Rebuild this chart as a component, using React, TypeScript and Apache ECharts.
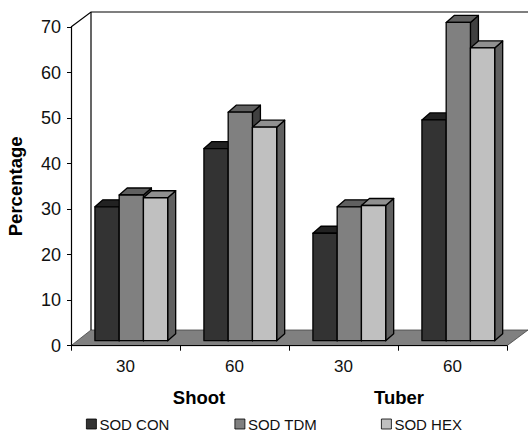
import React, { useEffect, useRef } from "react";
import * as echarts from "echarts";

const categories = ["30", "60", "30", "60"];
const seriesNames = ["SOD CON", "SOD TDM", "SOD HEX"];
const sodCon = [29.4, 42.2, 23.6, 48.5];
const sodTdm = [32.0, 50.2, 29.4, 69.9];
const sodHex = [31.4, 46.9, 29.7, 64.3];
const groupLabels = ["Shoot", "Tuber"];
const frontColors = ["#333333", "#808080", "#c0c0c0"];
const topColors = ["#222222", "#606060", "#909090"];
const sideColors = ["#222222", "#404040", "#606060"];

const FONT = "'Liberation Sans', Arial, sans-serif";
const G = { left: 71, right: 507, top: 27, bottom: 345.7 };
const DX = 20;
const DY = 15.7;

function barSeries(idx: number, values: number[]) {
  return {
    type: "custom",
    name: seriesNames[idx],
    coordinateSystem: "cartesian2d",
    encode: { x: 0, y: 1 },
    itemStyle: { color: frontColors[idx], borderColor: "#000", borderWidth: 1 },
    data: values.map((v, i) => [i, v]),
    renderItem: (_p: any, api: any) => {
      const band = api.size([1, 0])[0];
      const w = band * 0.2225;
      const c = api.coord([api.value(0), api.value(1)]);
      const b = api.coord([api.value(0), 0]);
      const x0 = c[0] + 5.8 + (idx - 1.5) * w;
      const x1 = x0 + w;
      const yTop = c[1] - 5;
      const yBase = b[1] - 5;
      const dx = 8;
      const dy = 7;
      const line = { stroke: "#000", lineWidth: 1.3, lineJoin: "round" };
      return {
        type: "group",
        children: [
          {
            type: "polygon",
            shape: { points: [[x1, yTop], [x1 + dx, yTop - dy], [x1 + dx, yBase - dy], [x1, yBase]] },
            style: { fill: sideColors[idx], ...line },
          },
          {
            type: "polygon",
            shape: { points: [[x0, yTop], [x0 + dx, yTop - dy], [x1 + dx, yTop - dy], [x1, yTop]] },
            style: { fill: topColors[idx], ...line },
          },
          {
            type: "rect",
            shape: { x: x0, y: yTop, width: w, height: yBase - yTop },
            style: { fill: frontColors[idx], ...line },
          },
        ],
      };
    },
  };
}

const legendLefts = [86, 234.5, 381];

export default function App() {
  const ref = useRef<HTMLDivElement>(null);
  useEffect(() => {
    const chart = echarts.init(ref.current!, null, { renderer: "svg" });
    const wall = { stroke: "#000", lineWidth: 1.2 };
    chart.setOption({
      animation: false,
      backgroundColor: "#fff",
      grid: {
        left: G.left,
        top: G.top,
        width: G.right - G.left,
        height: G.bottom - G.top,
        containLabel: false,
        outerBoundsMode: "none",
      },
      xAxis: {
        type: "category",
        data: categories,
        boundaryGap: true,
        axisLine: { show: true, lineStyle: { color: "#000", width: 1.2 } },
        axisTick: { show: true, length: 5, lineStyle: { color: "#000", width: 1 } },
        axisLabel: { color: "#111", fontSize: 17, fontFamily: FONT, margin: 12 },
        splitLine: { show: false },
      },
      yAxis: {
        type: "value",
        min: 0,
        max: 70,
        interval: 10,
        name: "Percentage",
        nameLocation: "middle",
        nameGap: 46,
        nameTextStyle: { color: "#000", fontSize: 18.5, fontWeight: "bold", fontFamily: FONT },
        axisLine: { show: true, lineStyle: { color: "#000", width: 1.2 } },
        axisTick: { show: true, length: 4, lineStyle: { color: "#000", width: 1 } },
        axisLabel: { color: "#111", fontSize: 18, fontFamily: FONT, margin: 10 },
        splitLine: { show: false },
      },
      legend: seriesNames.map((n, i) => ({
        data: [n],
        left: legendLefts[i],
        top: 416.5,
        itemWidth: 10,
        itemHeight: 10,
        padding: 0,
        selectedMode: false,
        icon: "rect",
        itemStyle: { color: frontColors[i], borderColor: "#000", borderWidth: 0.8 },
        textStyle: { color: "#111", fontSize: 15, lineHeight: 12, fontFamily: FONT, padding: [0, 0, 0, -2] },
      })),
      graphic: [
        {
          type: "polygon",
          silent: true,
          z: 0,
          shape: {
            points: [
              [G.left, G.bottom],
              [G.left + DX, G.bottom - DY],
              [528, G.bottom - DY],
              [G.right, G.bottom],
            ],
          },
          style: { fill: "#808080", stroke: "#444", lineWidth: 0.8 },
        },
        {
          type: "polyline",
          silent: true,
          z: 0,
          shape: {
            points: [
              [G.left, G.top],
              [G.left + DX, G.top - DY + 0.7],
              [528, G.top - DY + 0.7],
            ],
          },
          style: { fill: "none", ...wall },
        },
        {
          type: "line",
          silent: true,
          z: 0,
          shape: { x1: G.left + DX, y1: G.top - DY + 0.7, x2: G.left + DX, y2: G.bottom - DY },
          style: wall,
        },
        {
          type: "text",
          x: 199,
          y: 397.5,
          z: 3,
          style: {
            text: groupLabels[0],
            fill: "#000",
            font: `bold 18.5px ${FONT}`,
            textAlign: "center",
            textVerticalAlign: "middle",
          },
        },
        {
          type: "text",
          x: 399,
          y: 397.5,
          z: 3,
          style: {
            text: groupLabels[1],
            fill: "#000",
            font: `bold 18.5px ${FONT}`,
            textAlign: "center",
            textVerticalAlign: "middle",
          },
        },
      ],
      series: [barSeries(0, sodCon), barSeries(1, sodTdm), barSeries(2, sodHex)],
    });
    return () => chart.dispose();
  }, []);
  return <div ref={ref} style={{ position: "absolute", left: 0, top: 0, width: 528, height: 431 }} />;
}
